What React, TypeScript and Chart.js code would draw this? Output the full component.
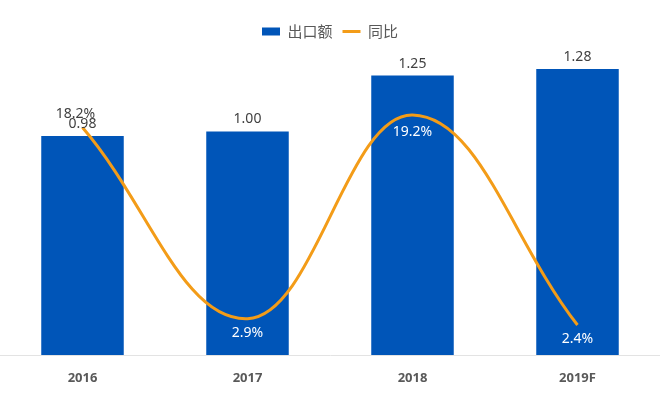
import React, { useEffect, useRef } from "react";
import { Chart, registerables } from "chart.js";

Chart.register(...registerables);

const categories = ["2016", "2017", "2018", "2019F"];
const exportValues = [0.98, 1.0, 1.25, 1.28];
const exportLabels = ["0.98", "1.00", "1.25", "1.28"];
const yoyValues = [18.2, 2.9, 19.2, 2.4];
const yoyLabels = ["18.2%", "2.9%", "19.2%", "2.4%"];
const seriesNames = ["出口额", "同比"];

const BAR_COLOR = "#0055B8";
const LINE_COLOR = "#F39C18";

const labelPlugin = {
  id: "valueLabels",
  afterDatasetsDraw(chart: any) {
    const ctx = chart.ctx;
    ctx.save();
    ctx.font = "14px 'Noto Sans', 'DejaVu Sans', sans-serif";
    ctx.textAlign = "center";
    ctx.textBaseline = "middle";
    const barMeta = chart.getDatasetMeta(0);
    barMeta.data.forEach((el: any, i: number) => {
      ctx.fillStyle = "#404040";
      ctx.fillText(exportLabels[i], el.x, el.y - 12);
    });
    const lineMeta = chart.getDatasetMeta(1);
    lineMeta.data.forEach((el: any, i: number) => {
      if (i === 0) {
        ctx.fillStyle = "#404040";
        ctx.fillText(yoyLabels[i], el.x - 7, el.y - 13);
      } else {
        ctx.fillStyle = "#FFFFFF";
        ctx.fillText(yoyLabels[i], el.x, el.y + (i === 2 ? 17 : 14));
      }
    });
    ctx.restore();
  },
};

export default function App() {
  const canvasRef = useRef<HTMLCanvasElement | null>(null);

  useEffect(() => {
    const canvas = canvasRef.current;
    if (!canvas) return;
    const chart = new Chart(canvas, {
      type: "bar",
      data: {
        labels: categories,
        datasets: [
          {
            type: "bar",
            label: seriesNames[0],
            data: exportValues,
            backgroundColor: BAR_COLOR,
            borderWidth: 0,
            barPercentage: 0.5,
            categoryPercentage: 1.0,
            yAxisID: "y",
            pointStyle: "rect",
          } as any,
          {
            type: "line",
            label: seriesNames[1],
            data: yoyValues,
            borderColor: LINE_COLOR,
            backgroundColor: LINE_COLOR,
            borderWidth: 3,
            pointRadius: 0,
            tension: 0.4,
            yAxisID: "y1",
            order: -1,
            pointStyle: "line",
          } as any,
        ],
      },
      options: {
        responsive: false,
        animation: false,
        layout: { padding: { top: 14, bottom: 0, left: 0, right: 0 } },
        plugins: {
          tooltip: { enabled: false },
          legend: {
            position: "top",
            align: "center",
            labels: {
              usePointStyle: true,
              pointStyleWidth: 18,
              boxHeight: 8,
              padding: 10,
              color: "#595959",
              font: { size: 15, family: "'Noto Sans CJK SC', 'Noto Sans', sans-serif" },
              sort: (a: any, b: any) => a.datasetIndex - b.datasetIndex,
            },
          },
        },
        scales: {
          x: {
            offset: true,
            grid: { display: false, drawTicks: false, tickLength: 0 },
            border: { display: true, color: "#E3E3E3", width: 1 },
            ticks: {
              padding: 15,
              color: "#595959",
              font: { size: 13, weight: "bold", family: "'Noto Sans', 'DejaVu Sans', sans-serif" },
            },
            afterFit: (scale: any) => {
              scale.height = 42;
            },
          },
          y: { display: false, min: 0, max: 1.369 },
          y1: { display: false, min: 0, max: 24.48, position: "right" },
        },
      },
      plugins: [labelPlugin],
    });
    return () => chart.destroy();
  }, []);

  return (
    <div style={{ position: "fixed", left: 0, top: 0, width: 660, height: 397, background: "#fff" }}>
      <canvas ref={canvasRef} width={660} height={397} style={{ width: 660, height: 397 }} />
    </div>
  );
}
